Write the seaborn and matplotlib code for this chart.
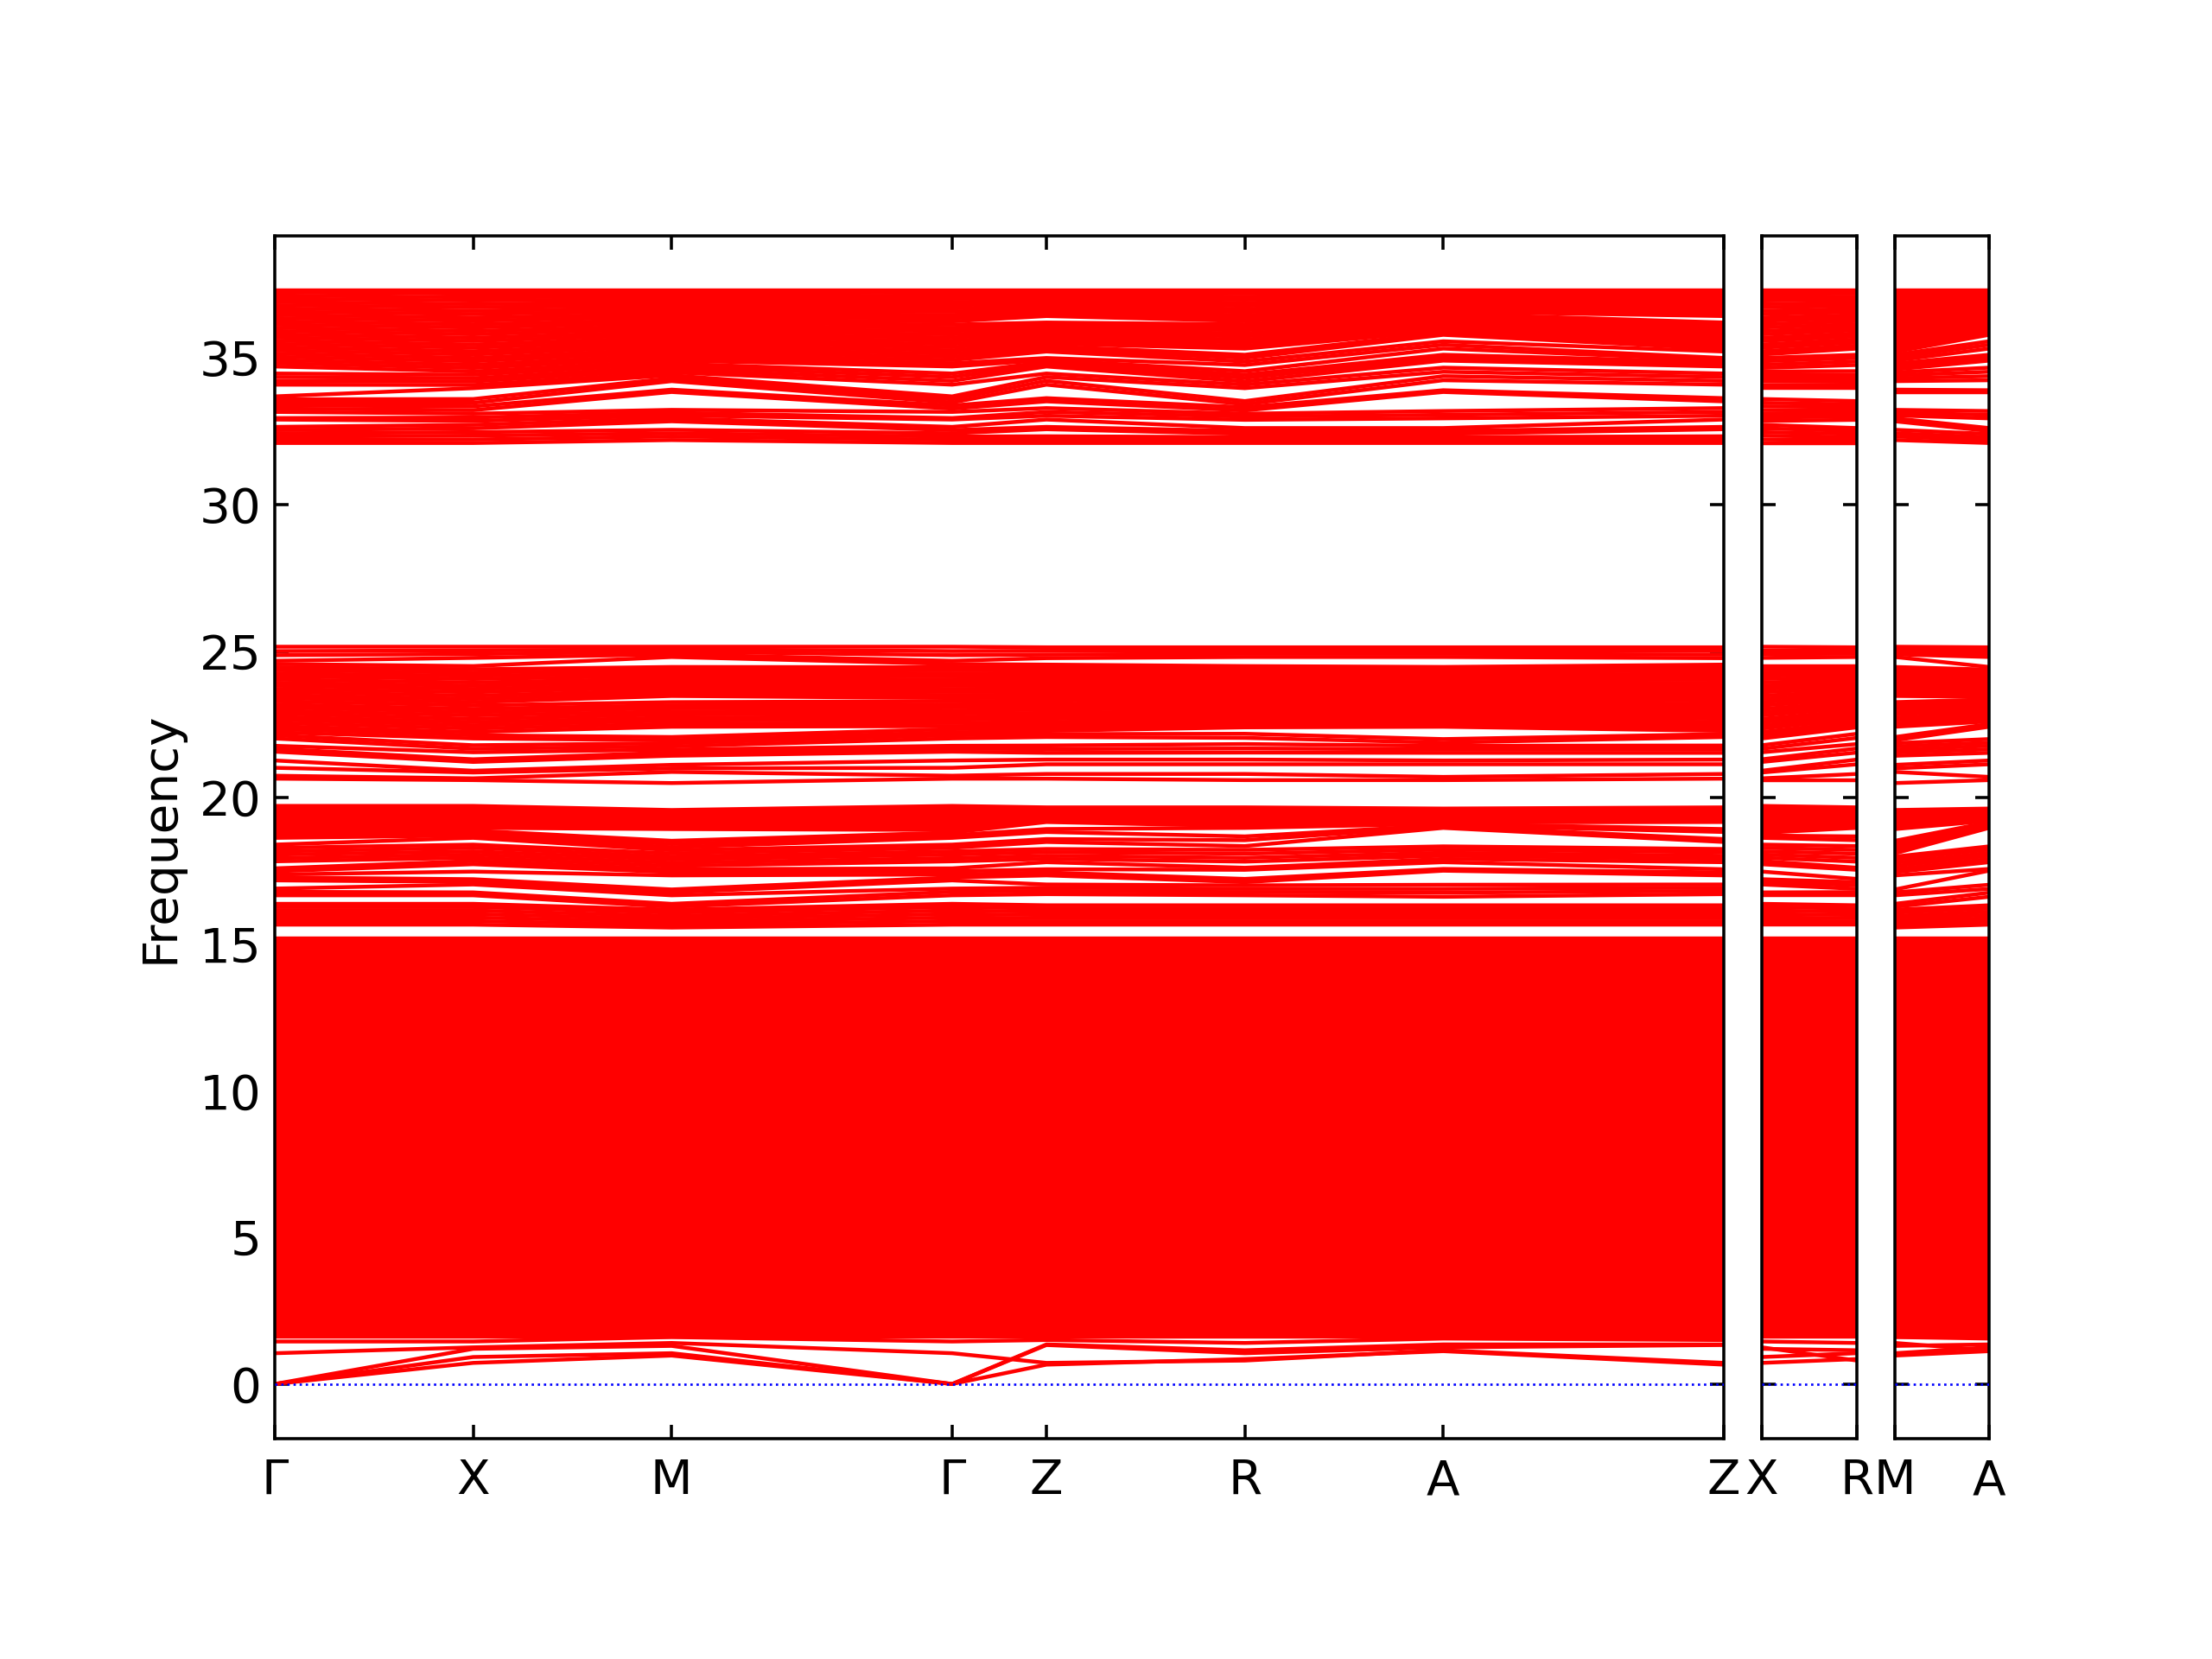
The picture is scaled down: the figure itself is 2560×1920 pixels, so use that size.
import numpy as np
import pandas as pd
import matplotlib
matplotlib.use("Agg")
import matplotlib.pyplot as plt
import seaborn as sns

# ---------------- data ----------------
# k-path (segment lengths read from the tick spacing)
main_labels = ["Γ", "X", "M", "Γ", "Z", "R", "A", "Z"]
main_seg = [1.0, 1.0, 1.414, 0.475, 1.0, 1.0, 1.414]
p2_labels = ["X", "R"]
p2_seg = [0.475]
p3_labels = ["M", "A"]
p3_seg = [0.475]

# frequencies at the high-symmetry points, band by band (same order in each list)
low_G = [0.00, 0.00, 0.00, 1.05, 1.45]
low_X = [0.72, 0.92, 1.20, 1.25, 1.45]
low_M = [0.97, 1.05, 1.30, 1.40, 1.60]
low_Z = [0.66, 1.33, 1.35, 0.72, 1.50]
low_R = [0.85, 1.05, 1.15, 0.80, 1.40]
low_A = [1.12, 1.25, 1.35, 1.15, 1.55]

# dense, nearly flat block (same at all points)
dense = [1.60, 1.71, 1.82, 1.93, 2.04, 2.15, 2.26, 2.37, 2.48, 2.59,
         2.70, 2.81, 2.92, 3.03, 3.14, 3.25, 3.36, 3.47, 3.58, 3.69,
         3.80, 3.91, 4.02, 4.13, 4.24, 4.35, 4.46, 4.57, 4.68, 4.79,
         4.90, 5.01, 5.12, 5.23, 5.34, 5.45, 5.56, 5.67, 5.78, 5.89,
         6.00, 6.11, 6.22, 6.33, 6.44, 6.55, 6.66, 6.77, 6.88, 6.99,
         7.10, 7.21, 7.32, 7.43, 7.54, 7.65, 7.76, 7.87, 7.98, 8.09,
         8.20, 8.31, 8.42, 8.53, 8.64, 8.75, 8.86, 8.97, 9.08, 9.19,
         9.30, 9.41, 9.52, 9.63, 9.74, 9.85, 9.96, 10.07, 10.18, 10.29,
         10.40, 10.51, 10.62, 10.73, 10.84, 10.95, 11.06, 11.17, 11.28, 11.39,
         11.50, 11.61, 11.72, 11.83, 11.94, 12.05, 12.16, 12.27, 12.38, 12.49,
         12.60, 12.71, 12.82, 12.93, 13.04, 13.15, 13.26, 13.37, 13.48, 13.59,
         13.70, 13.81, 13.92, 14.03, 14.14, 14.25, 14.36, 14.47, 14.58, 14.69,
         14.80, 14.91, 15.02, 15.13, 15.20]

mid_G = [15.67, 15.79, 15.91, 16.03, 16.15, 16.27, 16.38, 16.67, 16.79, 16.90,
         17.18, 17.28, 17.38, 17.49, 17.59, 17.83, 17.94, 18.06, 18.17, 18.29,
         18.40, 18.63, 18.72, 18.81, 18.90, 18.99, 19.08, 19.18, 19.27, 19.36,
         19.45, 19.54, 19.63, 19.72]
mid_X = [15.67, 15.79, 15.91, 16.03, 16.15, 16.27, 16.38, 16.67, 16.77, 17.04,
         17.13, 17.22, 17.48, 17.73, 17.84, 17.95, 18.06, 18.17, 18.29, 18.40,
         18.63, 18.71, 18.80, 18.88, 18.97, 19.05, 19.13, 19.22, 19.30, 19.39,
         19.47, 19.55, 19.64, 19.72]
mid_M = [15.57, 15.67, 15.77, 15.87, 15.97, 16.08, 16.18, 16.28, 16.38, 16.67,
         16.77, 16.87, 17.35, 17.46, 17.56, 17.67, 17.78, 17.89, 17.99, 18.10,
         18.21, 18.31, 18.42, 18.53, 18.93, 19.00, 19.07, 19.15, 19.22, 19.29,
         19.36, 19.44, 19.51, 19.58]
mid_Z = [15.67, 15.78, 15.89, 16.00, 16.11, 16.22, 16.33, 16.71, 16.82, 16.93,
         17.04, 17.35, 17.45, 17.56, 17.80, 17.91, 18.02, 18.14, 18.25, 18.49,
         18.59, 18.83, 18.93, 19.17, 19.22, 19.27, 19.32, 19.37, 19.42, 19.47,
         19.52, 19.57, 19.62, 19.67]
mid_R = [15.67, 15.78, 15.89, 16.00, 16.11, 16.22, 16.33, 16.67, 16.78, 16.89,
         17.01, 17.12, 17.23, 17.54, 17.61, 17.82, 17.95, 18.09, 18.22, 18.35,
         18.55, 18.68, 18.97, 19.03, 19.10, 19.16, 19.22, 19.29, 19.35, 19.41,
         19.48, 19.54, 19.60, 19.67]
mid_A = [15.67, 15.78, 15.89, 16.00, 16.11, 16.22, 16.33, 16.62, 16.76, 16.89,
         17.03, 17.51, 17.57, 17.80, 17.91, 18.02, 18.12, 18.23, 18.34, 18.97,
         19.02, 19.06, 19.11, 19.16, 19.21, 19.25, 19.30, 19.35, 19.39, 19.44,
         19.49, 19.54, 19.58, 19.63]

b2_G = [20.65, 20.75, 21.02, 21.27, 21.57, 21.67, 21.77, 22.02, 22.13, 22.23,
        22.34, 22.44, 22.55, 22.66, 22.76, 22.87, 22.97, 23.08, 23.18, 23.29,
        23.40, 23.50, 23.61, 23.71, 23.82, 23.92, 24.03, 24.14, 24.24, 24.35,
        24.45, 24.56, 24.67, 24.86, 25.00, 25.15]
b2_X = [20.60, 20.66, 20.86, 20.92, 21.22, 21.31, 21.55, 21.67, 21.79, 22.02,
        22.13, 22.24, 22.36, 22.47, 22.58, 22.69, 22.81, 22.92, 23.03, 23.15,
        23.26, 23.37, 23.48, 23.60, 23.71, 23.82, 23.93, 24.05, 24.16, 24.27,
        24.38, 24.49, 24.77, 24.90, 25.02, 25.15]
b2_M = [20.50, 20.88, 21.00, 21.12, 21.43, 21.54, 21.64, 21.75, 21.86, 21.96,
        22.07, 22.42, 22.52, 22.63, 22.73, 22.84, 22.94, 23.05, 23.15, 23.26,
        23.47, 23.57, 23.67, 23.77, 23.87, 23.97, 24.06, 24.16, 24.26, 24.36,
        24.46, 24.80, 24.89, 24.98, 25.06, 25.15]
b2_Z = [20.65, 20.81, 21.14, 21.30, 21.53, 21.66, 21.78, 22.07, 22.17, 22.28,
        22.38, 22.48, 22.58, 22.69, 22.79, 22.89, 23.00, 23.10, 23.20, 23.31,
        23.41, 23.51, 23.61, 23.72, 23.82, 23.92, 24.03, 24.13, 24.23, 24.34,
        24.44, 24.54, 24.76, 24.88, 25.01, 25.13]
b2_R = [20.60, 20.81, 21.14, 21.30, 21.54, 21.68, 21.83, 22.04, 22.18, 22.40,
        22.50, 22.59, 22.69, 22.78, 22.88, 22.97, 23.07, 23.16, 23.26, 23.35,
        23.45, 23.54, 23.64, 23.73, 23.83, 23.92, 24.02, 24.11, 24.21, 24.30,
        24.40, 24.49, 24.80, 24.91, 25.02, 25.13]
b2_A = [20.60, 20.71, 21.14, 21.27, 21.53, 21.65, 21.77, 21.88, 22.00, 22.42,
        22.51, 22.60, 22.70, 22.79, 22.88, 22.98, 23.07, 23.16, 23.25, 23.35,
        23.44, 23.53, 23.63, 23.72, 23.81, 23.90, 24.00, 24.09, 24.18, 24.28,
        24.37, 24.46, 24.80, 24.91, 25.02, 25.13]

up_G = [32.10, 32.21, 32.32, 32.43, 32.54, 32.65, 32.90, 32.95, 33.16, 33.27,
        33.38, 33.48, 33.59, 33.69, 34.09, 34.22, 34.35, 34.47, 34.71, 34.82,
        34.93, 35.04, 35.15, 35.26, 35.37, 35.48, 35.59, 35.70, 35.81, 35.92,
        36.03, 36.14, 36.25, 36.36, 36.47, 36.58, 36.69, 36.80, 36.91, 37.02,
        37.13, 37.24, 37.30]
up_X = [32.10, 32.22, 32.35, 32.47, 32.60, 32.72, 32.85, 32.97, 33.10, 33.22,
        33.35, 33.47, 33.60, 33.97, 34.08, 34.20, 34.31, 34.43, 34.54, 34.66,
        34.77, 34.89, 35.00, 35.12, 35.23, 35.35, 35.46, 35.58, 35.69, 35.81,
        35.92, 36.04, 36.15, 36.27, 36.38, 36.50, 36.61, 36.73, 36.84, 36.96,
        37.07, 37.19, 37.30]
up_M = [32.20, 32.32, 32.43, 32.55, 32.84, 32.94, 33.04, 33.13, 33.23, 33.84,
        33.92, 34.21, 34.31, 34.41, 34.51, 34.61, 34.71, 34.81, 34.91, 35.01,
        35.11, 35.21, 35.31, 35.41, 35.51, 35.60, 35.70, 35.80, 35.90, 36.00,
        36.10, 36.20, 36.30, 36.40, 36.50, 36.60, 36.70, 36.80, 36.90, 37.00,
        37.10, 37.20, 37.30]
up_Z = [32.10, 32.21, 32.33, 32.57, 32.65, 32.90, 33.03, 33.16, 33.29, 33.52,
        33.63, 34.09, 34.22, 34.35, 34.47, 34.71, 34.78, 34.86, 34.93, 35.00,
        35.22, 35.31, 35.40, 35.49, 35.58, 35.67, 35.76, 35.85, 35.94, 36.03,
        36.12, 36.21, 36.43, 36.52, 36.60, 36.69, 36.78, 36.87, 36.95, 37.04,
        37.13, 37.21, 37.30]
up_R = [32.10, 32.20, 32.30, 32.41, 32.51, 32.61, 32.89, 33.00, 33.10, 33.21,
        33.32, 33.42, 33.53, 33.97, 34.09, 34.20, 34.32, 34.43, 34.55, 34.76,
        34.88, 35.00, 35.11, 35.32, 35.42, 35.53, 35.63, 35.74, 35.84, 35.95,
        36.05, 36.15, 36.26, 36.36, 36.46, 36.57, 36.67, 36.78, 36.88, 36.99,
        37.09, 37.20, 37.30]
up_A = [32.10, 32.20, 32.30, 32.41, 32.51, 32.61, 32.94, 33.06, 33.19, 33.84,
        33.90, 34.24, 34.38, 34.53, 34.67, 34.91, 35.01, 35.11, 35.32, 35.45,
        35.57, 35.79, 35.86, 35.93, 36.01, 36.08, 36.15, 36.22, 36.29, 36.37,
        36.44, 36.51, 36.58, 36.65, 36.73, 36.80, 36.87, 36.94, 37.01, 37.09,
        37.16, 37.23, 37.30]

zero_level = 0.0
ytick_values = [0, 5, 10, 15, 20, 25, 30, 35]

# ---------------- build tables ----------------
freq_at = {
    "Γ": low_G + dense + mid_G + b2_G + up_G,
    "X": low_X + dense + mid_X + b2_X + up_X,
    "M": low_M + dense + mid_M + b2_M + up_M,
    "Z": low_Z + dense + mid_Z + b2_Z + up_Z,
    "R": low_R + dense + mid_R + b2_R + up_R,
    "A": low_A + dense + mid_A + b2_A + up_A,
}
nb = len(freq_at["Γ"])


def path_table(labels, segs):
    kpos = np.concatenate([[0.0], np.cumsum(segs)])
    rows = []
    for b in range(nb):
        for lab, k in zip(labels, kpos):
            rows.append((b, k, freq_at[lab][b]))
    return pd.DataFrame(rows, columns=["band", "k", "freq"]), kpos


# ---------------- figure ----------------
sns.set_style("ticks", {
    "xtick.direction": "in", "ytick.direction": "in",
    "axes.edgecolor": "black", "xtick.color": "black", "ytick.color": "black",
    "text.color": "black", "axes.labelcolor": "black",
})
plt.rcParams["font.family"] = ["DejaVu Sans"]
plt.rcParams["xtick.top"] = True
plt.rcParams["ytick.right"] = True

FS = 12.7
fig = plt.figure(figsize=(8, 6), dpi=320)
W, H = 2560.0, 1920.0
bot = 1 - 1665 / H
hgt = (1665 - 273) / H
ax1 = fig.add_axes([318 / W, bot, 1677 / W, hgt])
ax2 = fig.add_axes([2039 / W, bot, 110 / W, hgt])
ax3 = fig.add_axes([2193 / W, bot, 109 / W, hgt])

panels = [(ax1, main_labels, main_seg), (ax2, p2_labels, p2_seg), (ax3, p3_labels, p3_seg)]
for i, (ax, labels, segs) in enumerate(panels):
    df, kpos = path_table(labels, segs)
    sns.lineplot(data=df, x="k", y="freq", units="band", estimator=None,
                 color="red", linewidth=1.0, ax=ax, legend=False)
    ax.axhline(zero_level, color="blue", linestyle=":", linewidth=0.6, zorder=5)
    ax.set_xlim(kpos[0], kpos[-1])
    ax.set_xticks(kpos)
    ax.set_xticklabels(labels, fontsize=FS)
    ax.set_xlabel("")
    ax.set_yticks(ytick_values)
    ax.tick_params(axis="both", which="both", direction="in",
                   top=True, right=True, length=3.5, width=0.8)
    ax.tick_params(axis="x", pad=5)
    for s in ax.spines.values():
        s.set_visible(True)
        s.set_color("black")
        s.set_linewidth(0.8)
    if i == 0:
        ax.set_ylabel("Frequency", fontsize=FS)
        ax.tick_params(axis="y", labelsize=FS)
        ax.margins(y=0.05)
        ylims = ax.get_ylim()
    else:
        ax.set_ylabel("")
        ax.set_yticklabels([])

ax2.set_ylim(ylims)
ax3.set_ylim(ylims)

fig.savefig("out.png", dpi=320)
